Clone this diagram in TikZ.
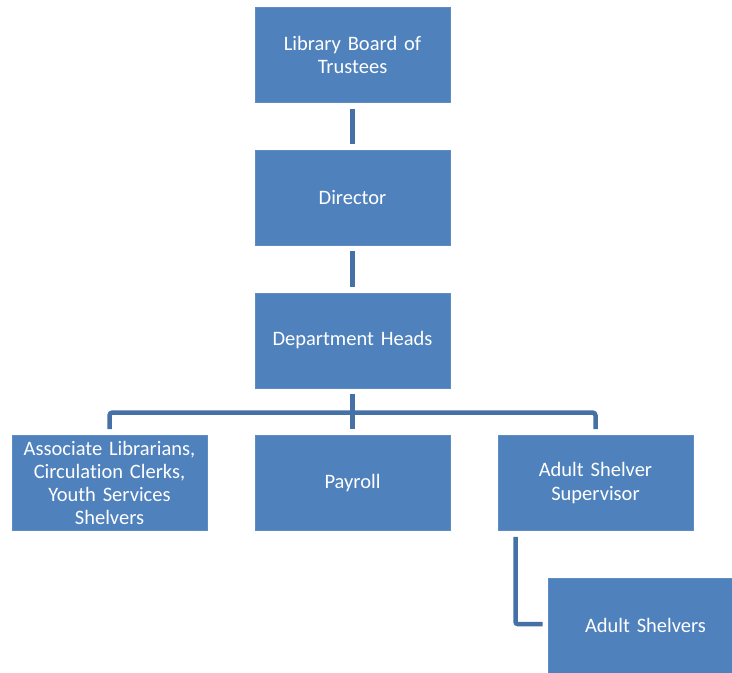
\documentclass[tikz,border=0pt]{standalone}
\usepackage{fontspec}
\setmainfont[Ligatures=NoCommon]{Carlito}
\definecolor{boxfill}{HTML}{4F81BD}
\definecolor{boxedge}{HTML}{5E8CC4}
\definecolor{linkcol}{HTML}{4571A6}
\begin{document}
\begin{tikzpicture}[x=1pt,y=-1pt,
  orgbox/.style={rectangle, fill=boxfill, draw=boxedge, line width=0.8pt,
    minimum width=195pt, minimum height=95pt, inner sep=0pt,
    text width=186pt, align=center, text=white,
    font=\fontsize{20.5}{23.3}\selectfont},
  link/.style={draw=linkcol, line width=4.5pt}]
\clip (0,0) rectangle (732,673);
\fill[white] (0,0) rectangle (732,673);

% boxes
\node[orgbox] (board)  at (352.5,55)    {Library Board of\\Trustees};
\node[orgbox] (dir)    at (352.5,197.5) {Director};
\node[orgbox] (heads)  at (352.5,340.5) {Department Heads};
\node[orgbox] (assoc)  at (109.5,483)   {Associate Librarians,\\Circulation Clerks,\\Youth Services\\Shelvers};
\node[orgbox] (pay)    at (352.5,483)   {Payroll};
\node[orgbox] (super)  at (595.5,483)   {Adult Shelver\\Supervisor};
\node[orgbox] (shelv)  at (645.5,625.5) {Adult Shelvers};

% connectors
\coordinate (bus) at (352.5,412.5);
\draw[link] ([yshift=-6pt]board.south) -- ([yshift=6pt]dir.north);
\draw[link] ([yshift=-6pt]dir.south) -- ([yshift=6pt]heads.north);
\draw[link] ([yshift=-6pt]heads.south) -- ([yshift=6pt]pay.north);
\draw[link, rounded corners=3pt] ([yshift=6pt]assoc.north) |- (bus) -| ([yshift=6pt]super.north);
\draw[link, rounded corners=2pt] ([xshift=18pt,yshift=-6pt]super.south west) |- ([xshift=-5pt,yshift=1.5pt]shelv.west);
\end{tikzpicture}
\end{document}
